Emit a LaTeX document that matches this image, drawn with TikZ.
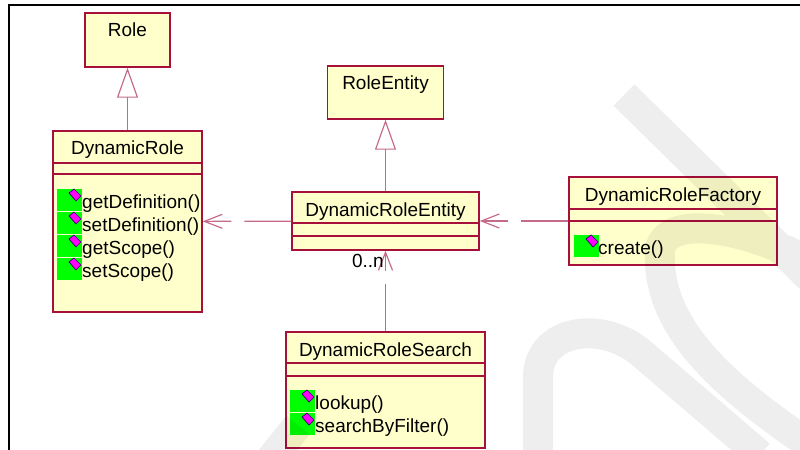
\documentclass[tikz,border=0pt]{standalone}
\usepackage{fontspec}
\setmainfont{Liberation Sans}
\usepackage{tikz}
\usetikzlibrary{arrows.meta,fit}

\definecolor{umlbox}{HTML}{A8103C}
\definecolor{umlfill}{HTML}{FFFFCC}
\definecolor{umlline}{HTML}{C46A8A}
\definecolor{opgreen}{HTML}{00FF00}
\definecolor{opdiam}{HTML}{FF00FF}
\definecolor{opedge}{HTML}{3A0070}

\tikzset{
  classbox/.style={draw=umlbox,fill=umlfill,line width=1.2pt,inner sep=0pt},
  title/.style={anchor=base,inner sep=0pt},
  op/.style={anchor=base west,inner sep=0pt},
  sep/.style={umlbox,line width=0.9pt},
  gen/.style={umlline,line width=1pt,-{Triangle[open,length=0.9cm,width=0.63cm]}},
  dep/.style={umlline,line width=1pt,dash pattern=on 1.41cm off 0.39cm,-{Straight Barb[length=0.54cm,width=0.42cm]}},
  opicon/.pic={
    \fill[opgreen] (0,0) rectangle (25,22);
    \filldraw[fill=opdiam,draw=opedge,line width=0.6pt] (12,4) -- (17,0) -- (24,7) -- (19,12) -- cycle;
  }
}

\begin{document}
\begin{tikzpicture}[x=0.03cm,y=-0.03cm,font=\fontsize{16.2}{19}\selectfont]
  \useasboundingbox (0,0) rectangle (800,450);
  \fill[white] (0,0) rectangle (800,450);
  \draw[line width=0.06cm] (9,452) -- (9,5) -- (802,5);

  % Role
  \node[classbox,fit={(85,13) (170,67)}] (role) {};
  \node[title] (roleT) at (127.5,37) {Role};

  % DynamicRole
  \node[classbox,fit={(53,131) (202,312)}] (dynRole) {};
  \node[title] (dynRoleT) at (127.5,155) {DynamicRole};
  \draw[sep] (53,163) -- (202,163) (53,174) -- (202,174);
  \foreach \op [count=\i] in {getDefinition(),setDefinition(),getScope(),setScope()} {
    \pic at (57,{166+23*\i}) {opicon};
    \node[op] (dynRoleOp\i) at (82,{185+23*\i}) {\op};
  }

  % RoleEntity
  \node[classbox,fit={(327.5,66) (443.5,119)}] (roleEntity) {};
  \node[title] (roleEntityT) at (385.5,90) {RoleEntity};

  % DynamicRoleEntity
  \node[classbox,fit={(292,192) (479,250)}] (dynEntity) {};
  \node[title] (dynEntityT) at (385.5,216.5) {DynamicRoleEntity};
  \draw[sep] (292,223) -- (479,223) (292,236) -- (479,236);

  % DynamicRoleFactory
  \node[classbox,fit={(569,177) (777,265)}] (factory) {};
  \node[title] (factoryT) at (673,202) {DynamicRoleFactory};
  \draw[sep] (569,209) -- (777,209) (569,221) -- (777,221);
  \pic at (574,235) {opicon};
  \node[op] (factoryOp1) at (598,254) {create()};

  % DynamicRoleSearch
  \node[classbox,fit={(286,332) (485,448)}] (search) {};
  \node[title] (searchT) at (385.5,356) {DynamicRoleSearch};
  \draw[sep] (286,363) -- (485,363) (286,376) -- (485,376);
  \foreach \op [count=\i] in {lookup(),searchByFilter()} {
    \pic at (290,{367+23*\i}) {opicon};
    \node[op] (searchOp\i) at (315,{386+23*\i}) {\op};
  }

  % relations
  \draw[gen] (dynRole) -- (role);
  \draw[gen] (dynEntity) -- (roleEntity);
  \draw[dep] (factory) -- (dynEntity);
  \draw[dep] (dynEntity) -- (dynRole);
  \draw[dep] (search) -- (dynEntity);
  \node[anchor=base east,inner sep=0pt] (mult) at (384,267) {0..n};

  % watermark
  \draw[black,draw opacity=0.065,line width=0.9cm]
    (624,95) -- (810,278)
    (810,445) .. controls (730,390) and (655,330) .. (660,250)
              .. controls (665,215) and (740,225) .. (810,262)
    (538,460) -- (538,375) .. controls (540,330) and (600,320) .. (640,352) -- (760,455)
    (298,425) -- (262,470);
\end{tikzpicture}
\end{document}
